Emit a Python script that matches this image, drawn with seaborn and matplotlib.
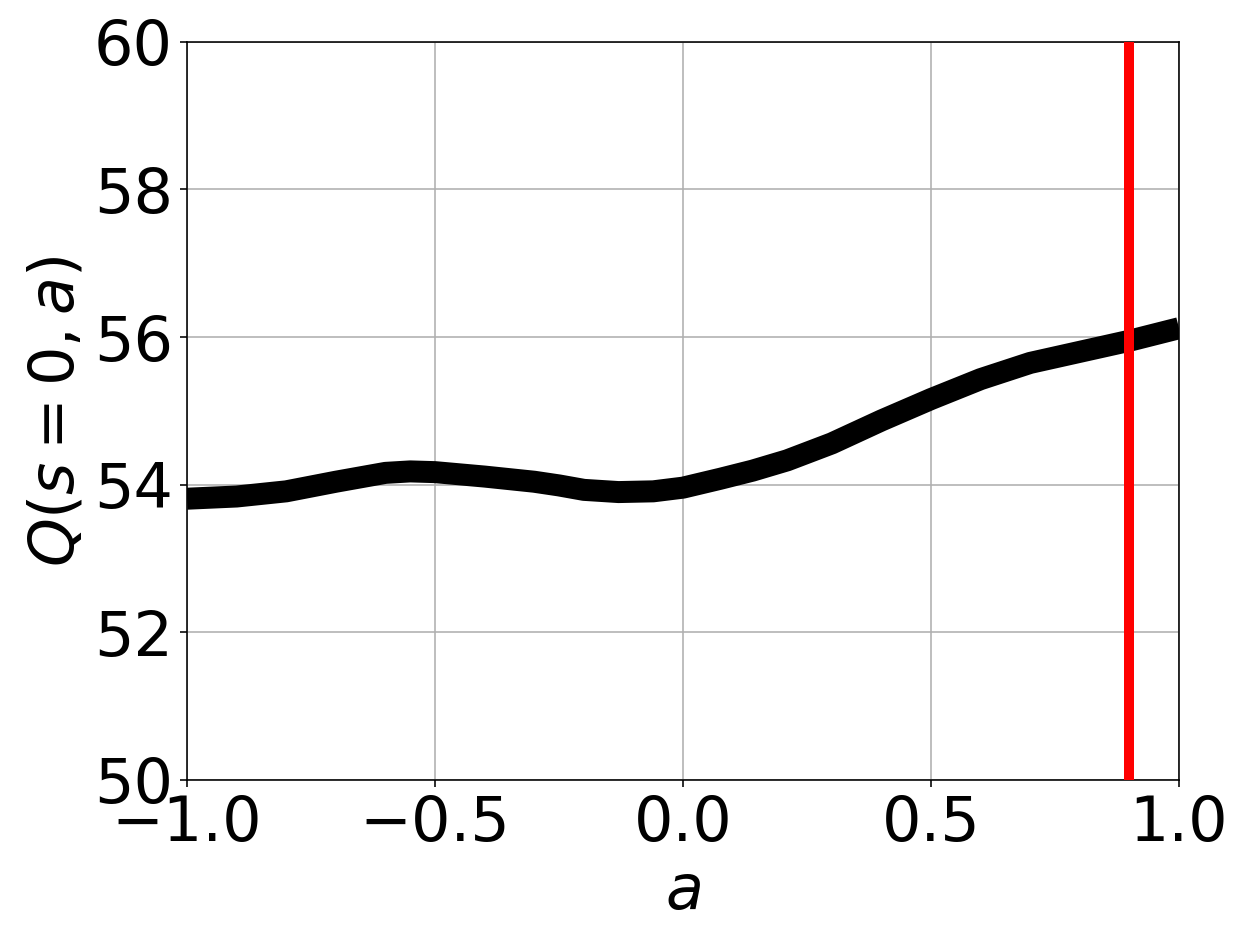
"""Q(s=0, a) curve with the chosen action marked"""

import matplotlib
matplotlib.use("Agg")
import matplotlib.pyplot as plt
import pandas as pd
import seaborn as sns

# values
actions = [-1.0, -0.9, -0.8, -0.7, -0.6, -0.55, -0.5, -0.4, -0.3, -0.25,
           -0.2, -0.13, -0.06, 0.0, 0.075, 0.14, 0.21, 0.3, 0.4, 0.5,
           0.6, 0.7, 0.8, 0.86, 0.9, 1.0]
q_values = [53.81, 53.84, 53.91, 54.04, 54.16, 54.18, 54.17, 54.11, 54.04,
            53.99, 53.93, 53.90, 53.91, 53.96, 54.08, 54.19, 54.33, 54.56,
            54.87, 55.16, 55.43, 55.65, 55.80, 55.89, 55.95, 56.12]
best_action = 0.9

x_ticks = [-1.0, -0.5, 0.0, 0.5, 1.0]
y_ticks = [50, 52, 54, 56, 58, 60]


def make_plot(df):
    fig = plt.figure(figsize=(1247 / 144, 950 / 144), dpi=144)
    ax = fig.add_axes([0.150, 0.179, 0.7955, 0.777])

    sns.lineplot(data=df, x="a", y="q", ax=ax, color="black",
                 linewidth=11, solid_capstyle="butt",
                 solid_joinstyle="round", zorder=3)
    ax.axvline(best_action, color="red", linewidth=5, zorder=4)

    ax.set_xlim(-1, 1)
    ax.set_ylim(50, 60)
    ax.set_xticks(x_ticks)
    ax.set_yticks(y_ticks)
    ax.grid(True, color="#b0b0b0", linewidth=0.8)
    ax.set_axisbelow(True)
    ax.tick_params(labelsize=31)
    ax.set_xlabel(r"$a$", fontsize=31)
    ax.set_ylabel(r"$Q(s=0,a)$", fontsize=31)

    fig.savefig("out.png", dpi=144)


if __name__ == "__main__":
    data = pd.DataFrame({"a": actions, "q": q_values})
    make_plot(data)
